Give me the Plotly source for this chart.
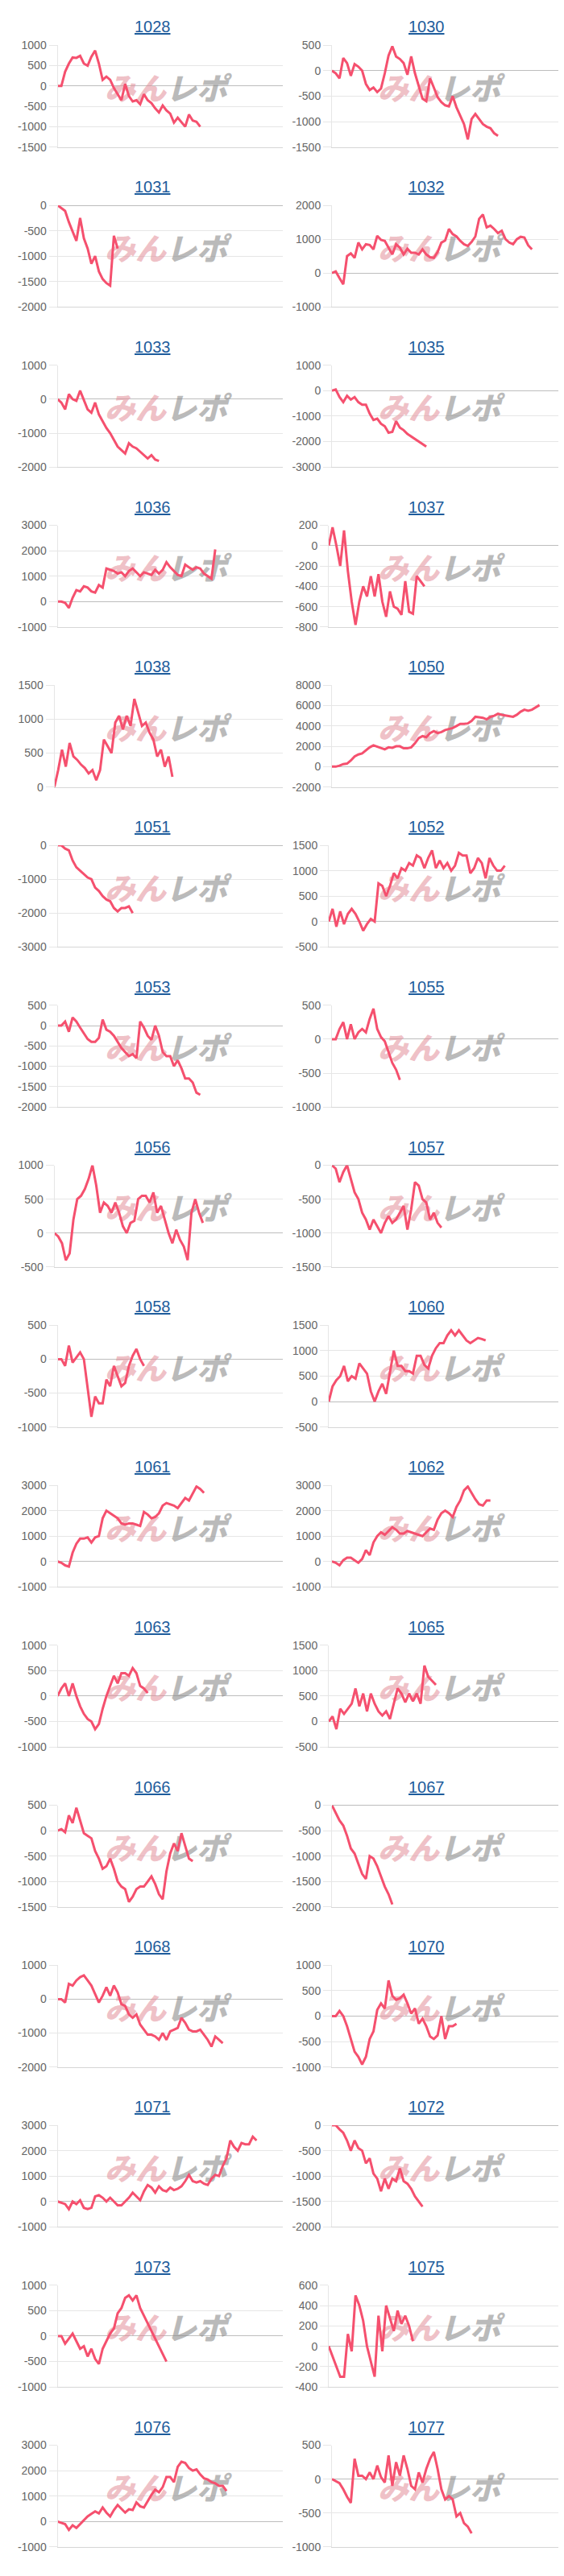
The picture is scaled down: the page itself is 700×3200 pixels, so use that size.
import plotly.graph_objects as go

# ---------------- data ----------------
machines = ["1028", "1030", "1031", "1032", "1033", "1035", "1036", "1037",
            "1038", "1050", "1051", "1052", "1053", "1055", "1056", "1057",
            "1058", "1060", "1061", "1062", "1063", "1065", "1066", "1067",
            "1068", "1070", "1071", "1072", "1073", "1075", "1076", "1077"]

m1028 = [0, 0, 350, 550, 700, 690, 740, 550, 500, 720, 870, 550, 150, 230, 150, -50, -200, -350, 50, -250,
         -380, -350, -450, -200, -350, -420, -550, -650, -480, -600, -680, -900, -780, -900, -1000, -700,
         -850, -880, -1000]
m1030 = [0, -50, -150, 250, 150, -100, 130, 80, 0, -260, -380, -330, -420, -350, -50, 300, 480, 280, 230, 150,
         -80, 280, -50, -300, -550, -600, -150, -330, -520, -620, -680, -700, -500, -720, -900, -1050, -1350,
         -950, -850, -950, -1050, -1100, -1130, -1230, -1280]
m1031 = [0, -50, -110, -330, -500, -700, -250, -650, -850, -1150, -1000, -1300, -1450, -1530, -1580, -600, -850]
m1032 = [0, 50, -150, -330, 500, 580, 450, 900, 700, 850, 830, 700, 1100, 980, 950, 750, 550, 850, 750, 550,
         720, 600, 600, 550, 700, 550, 470, 450, 620, 900, 960, 1300, 1150, 1080, 950, 850, 800, 920, 1080,
         1600, 1730, 1350, 1400, 1300, 1180, 1250, 1000, 900, 850, 1000, 1070, 1050, 820, 700]
m1033 = [0, -100, -300, 150, 0, -50, 250, -50, -300, -400, -100, -450, -650, -850, -1000, -1200, -1400, -1500,
         -1600, -1300, -1400, -1450, -1550, -1650, -1750, -1650, -1780, -1820]
m1035 = [0, 50, -250, -450, -200, -350, -250, -450, -550, -550, -900, -1150, -1100, -1300, -1400, -1650, -1620,
         -1200, -1450, -1550, -1700, -1800, -1900, -2000, -2100, -2200]
m1036 = [0, 0, -50, -250, 150, 450, 400, 600, 550, 400, 350, 650, 550, 1300, 1250, 1200, 1100, 1150, 1000, 1200,
         1300, 1150, 1000, 1150, 1100, 1050, 1250, 1100, 1250, 1550, 1350, 1200, 1050, 1000, 1450, 1350, 1250,
         1350, 1300, 1100, 1000, 900, 2050]
m1037 = [0, 180, 0, -200, 150, -250, -550, -780, -550, -400, -500, -300, -500, -280, -550, -700, -450, -600,
         -620, -680, -350, -650, -670, -300, -350, -400]
m1038 = [0, 250, 550, 300, 650, 450, 400, 330, 280, 200, 250, 100, 250, 700, 600, 500, 950, 1050, 850, 1050, 900,
         1300, 1100, 900, 950, 800, 700, 450, 550, 300, 450, 150]
m1050 = [0, 0, 100, 250, 300, 600, 1000, 1200, 1300, 1600, 1900, 2100, 1950, 1800, 1700, 1900, 1850, 2000, 2000,
         1800, 1800, 1900, 2300, 2800, 3000, 2900, 3300, 3500, 3300, 3400, 3600, 3700, 3800, 4000, 4200, 4200,
         4250, 4500, 4900, 4850, 4800, 4650, 4900, 5000, 5200, 5100, 5050, 4950, 4900, 5100, 5400, 5600, 5500,
         5600, 5800, 6050]
m1051 = [0, 0, -100, -150, -450, -650, -750, -850, -950, -1000, -1250, -1350, -1500, -1600, -1650, -1850, -1950,
         -1850, -1850, -1800, -2000]
m1052 = [0, 250, -100, 200, -50, 150, 250, 150, 0, -180, -50, 50, 0, 750, 700, 500, 700, 950, 850, 1050, 1000,
         1150, 1100, 1300, 1250, 1050, 1250, 1400, 1050, 1200, 1050, 1150, 1000, 1100, 1350, 1300, 1300, 950,
         1050, 1250, 1150, 850, 1250, 1100, 1000, 1000, 1100]
m1053 = [0, 0, 100, -150, 200, 100, -50, -200, -330, -400, -400, -300, 150, -100, -150, -250, -400, -550, -650,
         -750, -700, -800, 100, -50, -250, -350, 0, -250, -650, -750, -750, -1000, -850, -1050, -1300, -1300,
         -1400, -1650, -1700]
m1055 = [0, 0, 150, 250, 0, 220, 0, 100, 150, 100, 300, 450, 150, 30, -30, -200, -350, -450, -600]
m1056 = [0, -50, -150, -400, -300, 200, 500, 550, 650, 800, 1000, 700, 300, 450, 400, 300, 450, 300, 100, 0, 150,
         180, 500, 550, 550, 450, 600, 300, 400, 200, 0, -150, 50, -100, -200, -400, 300, 500, 300, 150]
m1057 = [0, -50, -250, -100, 0, -200, -400, -500, -700, -800, -950, -800, -900, -1000, -850, -750, -850, -800,
         -700, -600, -950, -650, -250, -300, -500, -550, -800, -700, -850, -920]
m1058 = [0, 0, -100, 200, -50, 30, 100, 0, -400, -850, -550, -650, -650, -300, -400, -100, -250, -400, -350, -100,
         50, 150, 0, -100]
m1060 = [0, 300, 420, 500, 700, 400, 500, 450, 750, 650, 550, 200, 0, 200, 350, 150, 600, 1000, 700, 700, 600,
         600, 550, 900, 900, 720, 650, 900, 1050, 1150, 1150, 1300, 1400, 1300, 1400, 1300, 1200, 1150, 1200,
         1250, 1230, 1200]
m1061 = [0, -50, -150, -200, 350, 700, 900, 900, 950, 750, 950, 1000, 1700, 2000, 1900, 1800, 1700, 1500, 1450,
         1500, 1500, 1450, 1400, 1950, 1850, 1700, 1750, 1900, 2200, 2300, 2250, 2200, 2100, 2300, 2500, 2400,
         2700, 2950, 2850, 2700]
m1062 = [0, -50, -150, 50, 150, 150, 50, -50, 100, 450, 250, 750, 1000, 1150, 1050, 1200, 1350, 1250, 1100, 1100,
         1200, 1150, 1100, 1050, 1000, 1150, 1300, 1250, 1650, 1900, 2000, 1900, 1750, 2150, 2400, 2800, 2950,
         2700, 2450, 2250, 2200, 2400, 2400]
m1063 = [0, 150, 250, 0, 250, 0, -200, -350, -450, -500, -650, -550, -250, 0, 200, 400, 250, 450, 450, 400, 550,
         450, 200, 150, 60]
m1065 = [0, 100, -150, 250, 150, 250, 350, 650, 300, 550, 200, 550, 350, 200, 120, 200, 50, 350, 650, 550, 380,
         550, 400, 550, 350, 1100, 880, 800, 720]
m1066 = [0, 30, -30, 300, 150, 450, 200, -50, -100, -150, -400, -550, -750, -700, -550, -750, -1000, -1100, -1150,
         -1400, -1300, -1150, -1100, -1100, -1000, -900, -1050, -1250, -1350, -800, -450, -250, -400, -50, -300,
         -550, -600]
m1067 = [0, -150, -300, -400, -600, -850, -950, -1150, -1350, -1450, -1000, -1050, -1200, -1400, -1600, -1750,
         -1950]
m1068 = [0, 0, -100, 450, 400, 550, 650, 700, 550, 400, 150, -100, 100, 350, 100, 400, 200, -150, -200, -450,
         -550, -450, -750, -900, -1050, -1050, -1100, -1200, -1000, -1200, -950, -900, -850, -550, -700, -900,
         -950, -950, -900, -1050, -1200, -1400, -1100, -1200, -1300]
m1070 = [0, 0, 100, 0, -200, -450, -700, -800, -950, -800, -450, -300, 120, 250, 150, 700, 400, 320, 350, 420,
         250, 50, 150, -150, -50, -200, -400, -450, -380, 0, -450, -200, -200, -150]
m1071 = [0, -50, -100, -300, 0, -100, 50, -250, -300, -250, 200, 250, 150, 0, 150, 0, -150, -150, 0, 150, 350,
         200, 50, 400, 650, 550, 350, 600, 450, 400, 550, 450, 500, 600, 800, 1050, 800, 750, 800, 700, 650, 900,
         1050, 1000, 1400, 1700, 2400, 2150, 2000, 2300, 2250, 2250, 2550, 2400]
m1072 = [0, 0, -80, -150, -300, -500, -300, -450, -500, -750, -650, -950, -1050, -1300, -1050, -1250, -1050,
         -1100, -850, -1100, -1150, -1250, -1400, -1500, -1600]
m1073 = [0, 0, -150, -50, 50, -100, -250, -200, -400, -250, -450, -550, -250, -100, 50, 150, 450, 550, 750, 800,
         700, 800, 550, 400, 250, 100, -50, -220, -350, -500]
m1075 = [0, -100, -200, -300, -300, 120, -50, 500, 400, 250, 0, -150, -300, 300, -50, 400, 280, 150, 350, 220,
         300, 200, 50]
m1076 = [0, -50, -100, -330, -150, -250, -100, 50, 200, 300, 400, 320, 550, 350, 200, 450, 650, 500, 350, 480,
         450, 750, 600, 550, 800, 1050, 1250, 1150, 1350, 1750, 1750, 1550, 2150, 2350, 2300, 2100, 2000, 2050,
         1850, 1700, 1650, 1550, 1500, 1400, 1400, 1200]
m1077 = [0, -30, -60, -150, -260, -350, 300, 50, 50, 0, 100, 0, 200, 30, -50, 350, -100, 250, 50, 350, 150, -100,
         -150, 100, -50, 150, 300, 400, 150, -150, -300, -250, -300, -550, -500, -650, -700, -800]

series = [m1028, m1030, m1031, m1032, m1033, m1035, m1036, m1037,
          m1038, m1050, m1051, m1052, m1053, m1055, m1056, m1057,
          m1058, m1060, m1061, m1062, m1063, m1065, m1066, m1067,
          m1068, m1070, m1071, m1072, m1073, m1075, m1076, m1077]

y_min = [-1500, -1500, -2000, -1000, -2000, -3000, -1000, -800,
         0, -2000, -3000, -500, -2000, -1000, -500, -1500,
         -1000, -500, -1000, -1000, -1000, -500, -1500, -2000,
         -2000, -1000, -1000, -2000, -1000, -400, -1000, -1000]
y_max = [1000, 500, 0, 2000, 1000, 1000, 3000, 200,
         1500, 8000, 0, 1500, 500, 500, 1000, 0,
         500, 1500, 3000, 3000, 1000, 1500, 500, 0,
         1000, 1000, 3000, 0, 1000, 600, 3000, 500]
y_step = [500, 500, 500, 1000, 1000, 1000, 1000, 200,
          500, 2000, 1000, 500, 500, 500, 500, 500,
          500, 500, 1000, 1000, 500, 500, 500, 500,
          1000, 500, 1000, 500, 500, 200, 1000, 500]

N_SLOTS = 60  # shared category axis length

# ---------------- layout geometry (pixels) ----------------
W, H = 700, 3200
ROW_PITCH = 199.75
COL_X = [0, 340.5]
PLOT_RIGHT = [351, 693]
TITLE_X = [190, 529]
WM_X = [206, 545]

LINE_COLOR = "rgb(245,80,110)"
GRID = "#e6e6e6"

fig = go.Figure()
layout = {}
annotations = []

for k, name in enumerate(machines):
    r, c = divmod(k, 2)
    lo, hi, st = y_min[k], y_max[k], y_step[k]
    ticks = list(range(lo, hi + st, st))
    labels = [str(t) for t in ticks]
    maxlen = max(len(s) for s in labels)
    ax_left = COL_X[c] + (71.5 if maxlen >= 5 else 67.5)
    ax_right = PLOT_RIGHT[c]
    row_y = r * ROW_PITCH
    top = row_y + 48.5
    bot = row_y + 175.5

    sfx = "" if k == 0 else str(k + 1)
    xref = "x" + sfx
    yref = "y" + sfx

    layout["xaxis" + sfx] = dict(
        domain=[ax_left / W, ax_right / W], range=[0, N_SLOTS],
        showticklabels=False, showgrid=False, zeroline=False,
        showline=True, linecolor="#d6d6d6", linewidth=1, ticks="",
        anchor=yref, fixedrange=True,
    )
    layout["yaxis" + sfx] = dict(
        domain=[1 - bot / H, 1 - top / H], range=[lo, hi],
        tickmode="array", tickvals=ticks, ticktext=labels,
        showgrid=True, gridcolor=GRID, gridwidth=1,
        zeroline=True, zerolinecolor="#bdbdbd", zerolinewidth=1,
        showline=True, linecolor=GRID, linewidth=1,
        ticks="outside", ticklen=10, tickcolor=GRID, tickwidth=1,
        tickfont=dict(family="Liberation Sans, Arial, sans-serif", size=14, color="#666666"),
        anchor=xref, fixedrange=True,
    )

    # watermark (background logo)
    wm_py = row_y + 107
    wm_x = (WM_X[c] - ax_left) / (ax_right - ax_left) * N_SLOTS
    wm_y = hi - (wm_py - top) / (bot - top) * (hi - lo)
    fig.add_trace(go.Scatter(
        x=[wm_x], y=[wm_y], mode="text",
        text=['<span style="color:rgba(226,140,150,0.55)">みん</span>'
              '<span style="color:rgba(140,140,140,0.6)">レポ</span>'],
        textposition="middle center",
        textfont=dict(family="Noto Sans CJK JP", size=38, weight=900, style="italic"),
        xaxis=xref, yaxis=yref, hoverinfo="skip", showlegend=False,
    ))

    vals = series[k]
    fig.add_trace(go.Scatter(
        x=list(range(len(vals))), y=vals, mode="lines",
        line=dict(color=LINE_COLOR, width=3),
        xaxis=xref, yaxis=yref, hoverinfo="skip", showlegend=False,
    ))

    annotations.append(dict(
        text="<u>" + name + "</u>", xref="paper", yref="paper",
        x=TITLE_X[c] / W, y=1 - (row_y + 25.5) / H,
        xanchor="center", yanchor="middle", showarrow=False,
        font=dict(family="Liberation Sans, Arial, sans-serif", size=20, color="#1d5c9c"),
    ))

fig.update_layout(
    width=W, height=H, margin=dict(l=0, r=0, t=0, b=0),
    paper_bgcolor="white", plot_bgcolor="white",
    annotations=annotations, showlegend=False,
    **layout,
)

fig.write_html("out.html", config={"displayModeBar": False})
